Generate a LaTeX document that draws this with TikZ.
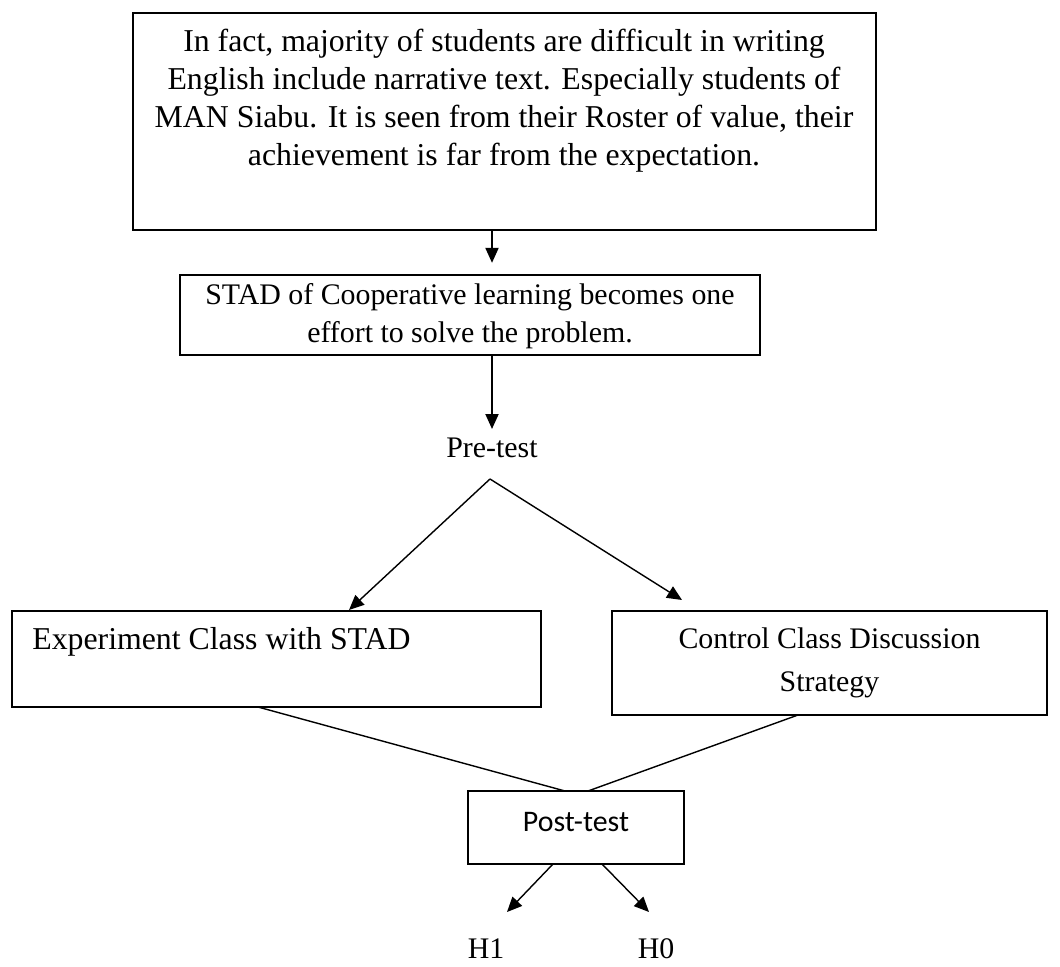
\documentclass[tikz,border=0pt]{standalone}
\usepackage{fontspec}
\setmainfont{Liberation Serif}
\newfontfamily\calibrifont{Carlito}
\usetikzlibrary{arrows.meta}

\begin{document}
\begin{tikzpicture}[x=0.02cm,y=-0.02cm,
        box/.style={draw,line width=0.9pt,inner sep=0pt},
        txt/.style={font=\fontsize{17}{21.5}\selectfont,inner sep=0pt,align=center},
        arr/.style={-{Triangle[length=8.5pt,width=7.5pt]},line width=0.8pt}]
        \useasboundingbox (0,0) rectangle (1060,966);
        % boxes
        \node [box,minimum width=14.86cm,minimum height=4.34cm] (problem) at (504.5,121.5) {};
        \node [txt,font=\fontsize{18.1}{21.7}\selectfont] (problemtext) at (504,101) {In fact, majority of students are difficult in writing\\
            English include narrative text. Especially students of\\
            MAN Siabu. It is seen from their Roster of value, their\\
            achievement is far from the expectation.};
        \node [box,minimum width=11.6cm,minimum height=1.6cm] (stad) at (470,315) {};
        \node [txt] (stadtext) at (470,316) {STAD of Cooperative learning becomes one\\
            effort to solve the problem.};
        \node [txt] (pretest) at (492,448) {Pre-test};
        \node [box,minimum width=10.58cm,minimum height=1.92cm] (exp) at (276.5,659) {};
        \node [txt,anchor=west,font=\fontsize{18.1}{21.7}\selectfont] (exptext) at (32,642) {Experiment Class with STAD};
        \node [box,minimum width=8.7cm,minimum height=2.08cm] (ctrl) at (829.5,663) {};
        \node [txt,font=\fontsize{17}{24.5}\selectfont] (ctrltext) at (829.5,663) {Control Class Discussion\\
            Strategy};
        \node [box,minimum width=4.32cm,minimum height=1.46cm] (post) at (576,827.5) {};
        \node [txt,font=\calibrifont\fontsize{17}{21.5}\selectfont] (posttext) at (576,822) {Post-test};
        \node [txt] (hone) at (486,949) {H1};
        \node [txt] (hzero) at (656,949) {H0};
        % free ends
        \coordinate (fork) at (490,479);
        \coordinate (expin) at (349,610);
        \coordinate (ctrlin) at (682,600);
        \coordinate (expout) at (258,707);
        \coordinate (ctrlout) at (798,715);
        \coordinate (postinl) at (565,791);
        \coordinate (postinr) at (588,791);
        \coordinate (postoutl) at (553,864);
        \coordinate (postoutr) at (602,864);
        \coordinate (honein) at (507,912);
        \coordinate (hzeroin) at (649,912);
        % connectors
        \draw [arr,shorten >=6.5pt] (problem.south -| pretest) -- (stad.north -| pretest);
        \draw [arr,shorten >=5pt] (stad.south -| pretest) -- (pretest.north);
        \draw [arr] (fork) -- (expin);
        \draw [arr] (fork) -- (ctrlin);
        \draw [line width=0.8pt] (expout) -- (postinl);
        \draw [line width=0.8pt] (ctrlout) -- (postinr);
        \draw [arr] (postoutl) -- (honein);
        \draw [arr] (postoutr) -- (hzeroin);
    \end{tikzpicture}
\end{document}
